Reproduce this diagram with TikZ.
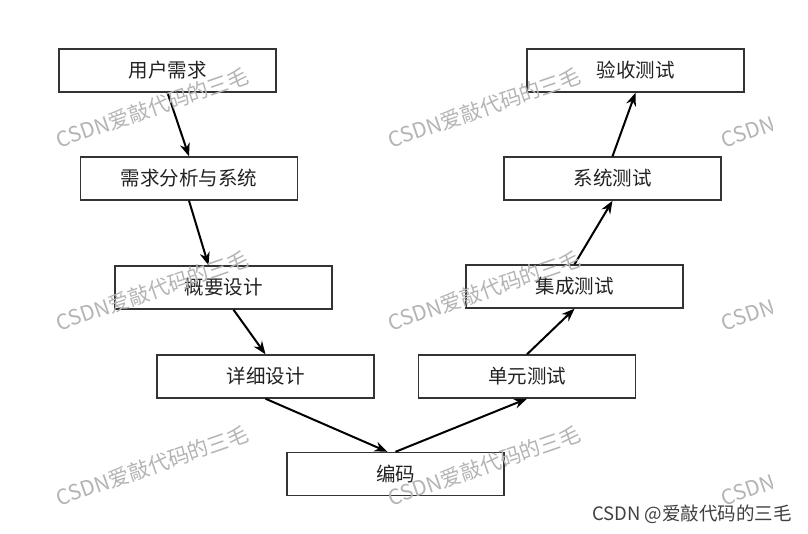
\documentclass[tikz,border=0pt]{standalone}
\usepackage{fontspec}
\setmainfont{Noto Sans CJK SC}
\usetikzlibrary{arrows.meta,calc}
\definecolor{txt}{HTML}{222222}
\definecolor{wm}{HTML}{B4B4B4}
\definecolor{edge}{HTML}{333333}
\begin{document}
\begin{tikzpicture}[x=1pt,y=-1pt,
  box/.style={draw=edge,line width=1.4pt,minimum width=217pt,minimum height=43pt,inner sep=0pt,
              text=txt,font=\fontsize{19.5}{19.5}\selectfont},
  arr/.style={line width=2pt,draw=black,-{Stealth[length=13pt,width=10pt]}},
  wmark/.style={text=wm,font=\fontsize{21}{21}\selectfont,rotate=19,anchor=south west,inner sep=0pt}]
\useasboundingbox[fill=white] (0,0) rectangle (808,533);
% boxes
\node[box] (yh) at (167.5,70.5) {用户需求};
\node[box] (xq) at (189,178.5) {需求分析与系统};
\node[box] (gy) at (223.5,287.5) {概要设计};
\node[box] (xx) at (265.5,376.5) {详细设计};
\node[box] (bm) at (395.5,474) {编码};
\node[box] (dy) at (527,376.5) {单元测试};
\node[box] (jc) at (574.5,286.5) {集成测试};
\node[box] (xt) at (612.5,178.5) {系统测试};
\node[box] (ys) at (635.5,70.5) {验收测试};
% arrows
\draw[arr] (yh.south) -- (xq.north);
\draw[arr] (xq.south) -- ($(gy.north)+(-15,0)$);
\draw[arr] ($(gy.south)+(10,0)$) -- (xx.north);
\draw[arr] (xx.south) -- ($(bm.north)+(-8,0)$);
\draw[arr] (bm.north) -- (dy.south);
\draw[arr] (dy.north) -- (jc.south);
\draw[arr] (jc.north) -- (xt.south);
\draw[arr] (xt.north) -- (ys.south);
% watermarks
\begin{scope}
\clip (0,0) rectangle (772,533);
\foreach \wx in {60,392,725}{
  \foreach \wy in {150,333,508}{
    \node[wmark] (w\wx\wy) at (\wx,\wy) {CSDN爱敲代码的三毛};
  }
}
\end{scope}
\node[anchor=east,text=black!75,font=\fontsize{18.5}{18.5}\selectfont,inner sep=0pt] (sig) at (792,514) {CSDN @爱敲代码的三毛};
\end{tikzpicture}
\end{document}
